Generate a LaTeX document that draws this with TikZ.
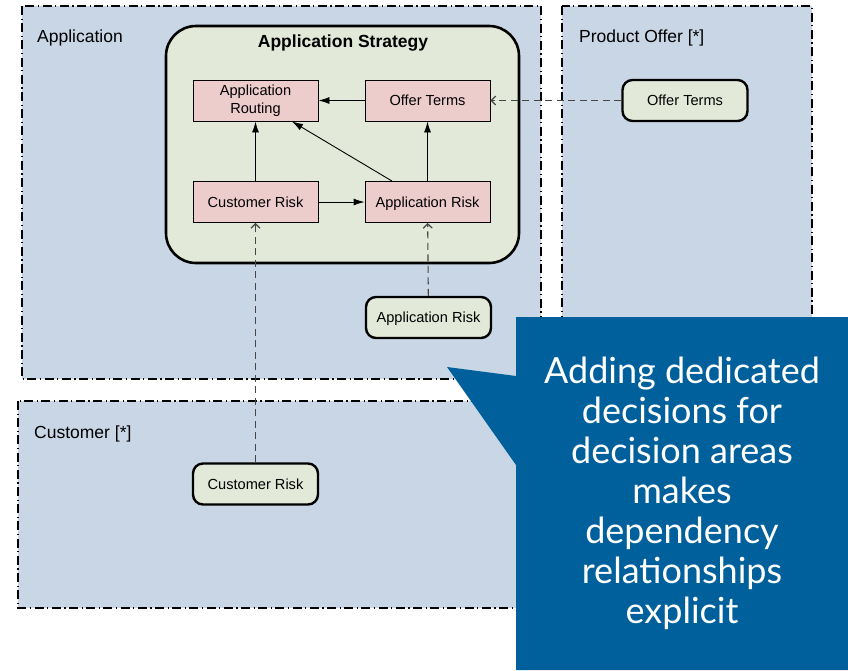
\documentclass[tikz,border=0pt]{standalone}
\usepackage{fontspec}
\setmainfont{Liberation Sans}
\newfontfamily\calloutfont{Lato}
\usetikzlibrary{arrows.meta}

\definecolor{areafill}{RGB}{201,214,229}
\definecolor{stratfill}{RGB}{226,233,216}
\definecolor{decfill}{RGB}{237,205,203}
\definecolor{calloutblue}{RGB}{0,96,156}
\definecolor{depgray}{RGB}{70,70,70}

\begin{document}
\begin{tikzpicture}[x=1pt,y=-1pt,
  area/.style={fill=areafill, draw=black, line width=1.4pt,
    dash pattern=on 9pt off 3.5pt on 1.2pt off 3.5pt},
  arealabel/.style={anchor=west, inner sep=0pt, font=\fontsize{17.5}{20}\selectfont},
  strategy/.style={draw=black, fill=stratfill, line width=2.6pt,
    rounded corners=30pt, minimum width=353pt, minimum height=237pt},
  oneline/.style={text height=10.5pt, text depth=0.5pt},
  dec/.style={draw=black, fill=decfill, line width=0.9pt, align=center,
    minimum width=125pt, minimum height=41pt, inner sep=1pt,
    font=\fontsize{14.6}{18}\selectfont},
  ext/.style={draw=black, fill=stratfill, line width=2.4pt, rounded corners=10pt,
    minimum width=125pt, minimum height=41pt, inner sep=1pt, oneline,
    font=\fontsize{14.6}{18}\selectfont},
  flow/.style={draw=black, line width=0.9pt, -{Latex[length=11pt,width=7pt]}},
  dep/.style={draw=depgray, line width=1.1pt, dash pattern=on 7pt off 4.5pt,
    -{Straight Barb[length=4.5pt,width=9pt]}},
  note/.style={text=white, align=center, inner sep=0pt,
    font=\calloutfont\fontsize{36}{40}\selectfont}
]
\useasboundingbox (0,0) rectangle (848,670);
\fill[white] (0,0) rectangle (848,670);

% decision areas
\draw[area] (22,6) rectangle (541,379);
\draw[area] (562,6) rectangle (812,379);
\draw[area] (18,401) rectangle (541,608);
\node[arealabel] (lblapp) at (37,37.5) {Application};
\node[arealabel] (lblprod) at (579,37.5) {Product Offer [*]};
\node[arealabel] (lblcust) at (34,433.5) {Customer [*]};

% the strategy and its decisions
\node[strategy] (strat) at (342.5,144.5) {};
\node[font=\bfseries\fontsize{17.5}{20}\selectfont, inner sep=0pt] (strattitle) at (343,43.5) {Application Strategy};

\node[dec] (route) at (255.5,100.5) {Application\\Routing};
\node[dec, oneline] (offer) at (427.5,100.5) {Offer Terms};
\node[dec, oneline] (crisk) at (255.5,202) {Customer Risk};
\node[dec, oneline] (arisk) at (427.5,202) {Application Risk};

\draw[flow] (offer) -- (route);
\draw[flow] (crisk) -- (route);
\draw[flow] ([xshift=-35.5pt]arisk.north) -- ([xshift=36.5pt]route.south);
\draw[flow] (arisk) -- (offer);
\draw[flow] (crisk) -- (arisk);

% decisions taken in other areas
\node[ext] (xoffer) at (685,100.5) {Offer Terms};
\node[ext] (xarisk) at (428.5,317.5) {Application Risk};
\node[ext] (xcrisk) at (255.5,484) {Customer Risk};

\draw[dep] (xoffer) -- (offer);
\draw[dep] (xarisk) -- (arisk);
\draw[dep] (xcrisk) -- (crisk);

% callout
\fill[calloutblue] (516,317) -- (848,317) -- (848,670) -- (516,670)
  -- (516,465) -- (447,367) -- (516,376) -- cycle;
\node[note] (notetext) at (682,493) {Adding dedicated\\decisions for\\decision areas\\makes\\dependency\\relationships\\explicit};
\end{tikzpicture}
\end{document}
